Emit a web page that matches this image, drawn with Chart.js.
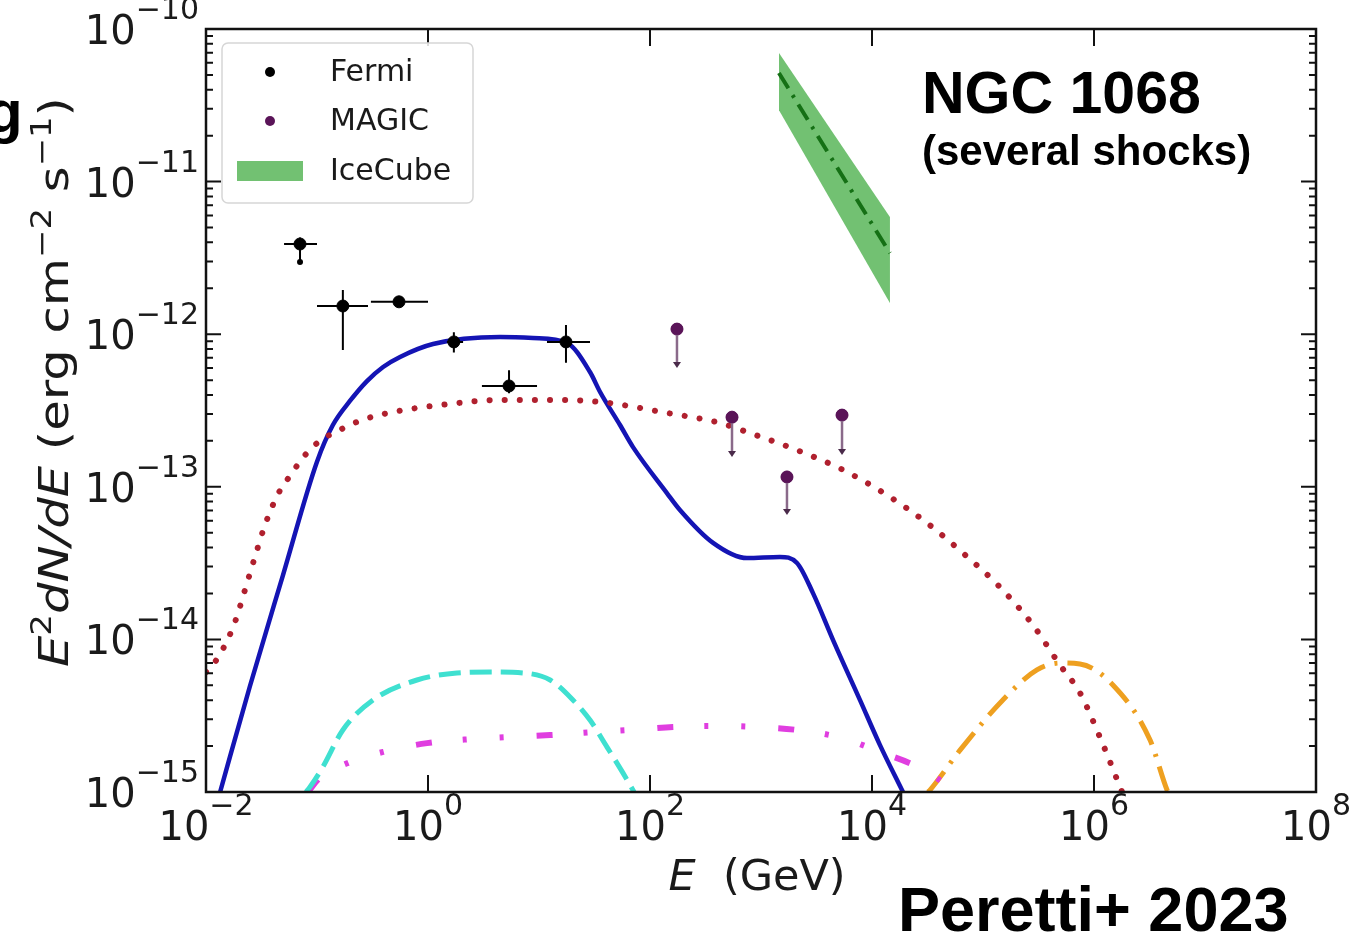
<!DOCTYPE html>
<html>
<head>
<meta charset="utf-8">
<title>NGC 1068 SED</title>
<script src="https://cdn.jsdelivr.net/npm/chart.js@4.4.1/dist/chart.umd.min.js"></script>
<style>
html, body { margin: 0; padding: 0; background: #ffffff; }
#wrap { width: 1350px; height: 937px; position: relative; }
</style>
</head>
<body>
<div id="wrap"><canvas id="sed" width="1350" height="937"></canvas></div>
<script>
// ---- data (E in GeV, E^2 dN/dE in erg cm^-2 s^-1) ----
const fermiE    = [0.0703, 0.171, 0.548, 1.71, 5.37, 17.5];
const fermiF    = [3.9e-12, 1.53e-12, 1.63e-12, 8.9e-13, 4.58e-13, 8.9e-13];
const fermiELo  = [0.0505, 0.1, 0.306, 1.48, 3.06, 11.8];
const fermiEHi  = [0.1, 0.288, 1.0, 2.07, 9.6, 28.8];
const fermiFLo  = [2.97e-12, 7.87e-13, 1.55e-12, 7.6e-13, 4.1e-13, 6.5e-13];
const fermiFHi  = [4.3e-12, 1.95e-12, 1.72e-12, 1.03e-12, 5.8e-13, 1.15e-12];

const magicE    = [175, 548, 1714, 5370];
const magicF    = [1.08e-12, 2.86e-13, 1.16e-13, 2.95e-13];
const magicTo   = [6.28e-13, 1.64e-13, 6.84e-14, 1.69e-13];

const iceE      = [1450, 14500];
const iceUpper  = [6.97e-11, 5.86e-12];
const iceLower  = [2.94e-11, 1.6e-12];
const iceBest   = [5.15e-11, 3.4e-12];

const totalE = [0.0134, 0.0249, 0.0494, 0.1, 0.139, 0.198, 0.282, 0.394, 0.56, 1.11, 4.46, 8.83, 17.9, 28.8,
                35.5, 53.7, 70.3, 142, 186, 370, 748, 1480, 2110, 2940, 4460, 7800, 11800, 19000];
const totalF = [1.0e-15, 4.95e-15, 2.64e-14, 1.46e-13, 2.54e-13, 3.65e-13, 4.93e-13, 6.1e-13, 7.1e-13, 8.63e-13,
                9.59e-13, 9.44e-13, 8.75e-13, 5.65e-13, 4.18e-13, 2.54e-13, 1.82e-13, 9.1e-14, 7.05e-14, 4.29e-14,
                3.41e-14, 3.47e-14, 3.17e-14, 2.01e-14, 9.9e-15, 4.0e-15, 2.03e-15, 1.0e-15];

const ppE = [0.01, 0.01205, 0.01483, 0.01825, 0.02244, 0.0276, 0.034, 0.0446, 0.0571, 0.0796, 0.1064, 0.161,
             0.254, 0.484, 1.58, 4.46, 12.6, 35.5, 142, 428, 796, 2109, 5480, 13650, 31300, 66000, 142000,
             282000, 494000, 748000, 1.13e6, 1.79e6];
const ppF = [6.11e-15, 7.11e-15, 9.19e-15, 1.3e-14, 2.11e-14, 3.47e-14, 5.62e-14, 8.97e-14, 1.18e-13, 1.64e-13,
             2.0e-13, 2.36e-13, 2.74e-13, 3.09e-13, 3.49e-13, 3.71e-13, 3.71e-13, 3.6e-13, 3.05e-13, 2.62e-13,
             2.25e-13, 1.74e-13, 1.29e-13, 8.83e-14, 5.79e-14, 3.68e-14, 2.2e-14, 1.24e-14, 6.79e-15, 4.46e-15,
             2.29e-15, 1.0e-15];

const cyanE = [0.0796, 0.0865, 0.113, 0.171, 0.32, 0.796, 1.82, 3.62, 7.18, 12.6, 20.2, 28.8, 41, 57.2, 71.8];
const cyanF = [1.0e-15, 1.08e-15, 1.46e-15, 2.55e-15, 4.01e-15, 5.42e-15, 6.03e-15, 6.11e-15, 6.03e-15,
               5.42e-15, 4.01e-15, 2.96e-15, 1.97e-15, 1.33e-15, 1.0e-15];

const magE = [0.083, 0.106, 0.19, 0.394, 0.98, 2.39, 5.15, 12.6, 30.6, 66.1, 161, 402, 883, 2110, 5370,
              11800, 25900, 59600];
const magF = [1.0e-15, 1.24e-15, 1.55e-15, 1.83e-15, 2.09e-15, 2.22e-15, 2.29e-15, 2.36e-15, 2.47e-15,
              2.55e-15, 2.67e-15, 2.71e-15, 2.67e-15, 2.55e-15, 2.26e-15, 1.83e-15, 1.46e-15, 1.0e-15];

const orangeE = [32000, 33300, 62100, 151000, 306000, 494000, 748000, 1.48e6, 3.2e6, 4.55e6, 4.64e6];
const orangeF = [1.0e-15, 1.03e-15, 1.88e-15, 4.01e-15, 6.31e-15, 7.0e-15, 6.9e-15, 5.03e-15, 2.19e-15,
                 1.03e-15, 1.0e-15];

const xTickExps = [-2, 0, 2, 4, 6, 8];
const yTickExps = [-15, -14, -13, -12, -11, -10];

// ---- helpers ----
function pts(xs, ys)
{
	return xs.map((x, i) => ({ x: x, y: ys[i] }));
}

function curve(label, xs, ys, color, width, dash, cap)
{
	return {
		label: label,
		data: pts(xs, ys),
		showLine: true,
		borderColor: color,
		borderWidth: width,
		borderDash: dash,
		borderCapStyle: cap || "butt",
		pointRadius: 0,
		cubicInterpolationMode: "monotone",
		fill: false,
		order: 2
	};
}

function powLabel(ctx, exp, x, baseY, align)
{
	const base = "10";
	const sup = (exp < 0 ? "\u2212" : "") + Math.abs(exp);
	ctx.font = "40px 'DejaVu Sans'";
	const wb = ctx.measureText(base).width;
	ctx.font = "30px 'DejaVu Sans'";
	const ws = ctx.measureText(sup).width;
	const x0 = align === "right" ? x - wb - ws : x - (wb + ws) / 2;
	ctx.textAlign = "left";
	ctx.textBaseline = "alphabetic";
	ctx.font = "40px 'DejaVu Sans'";
	ctx.fillText(base, x0, baseY);
	ctx.font = "30px 'DejaVu Sans'";
	ctx.fillText(sup, x0 + wb, baseY - 25);
}

function drawPieces(ctx, pieces, x, y, centre)
{
	let total = 0;
	for (let p of pieces) { ctx.font = p.f; p.w = ctx.measureText(p.t).width; total += p.w; }
	let cx = centre ? x - total / 2 : x;
	ctx.textAlign = "left";
	ctx.textBaseline = "alphabetic";
	for (let p of pieces)
	{
		ctx.font = p.f;
		ctx.fillText(p.t, cx, y + (p.dy || 0));
		cx += p.w;
	}
}

// ---- decorations drawn through the chart's own scales ----
const sedDecor = {
	id: "sedDecor",
	afterDatasetsDraw(chart)
	{
		const ctx = chart.ctx;
		const xs = chart.scales.x, ys = chart.scales.y;
		const a = chart.chartArea;
		ctx.save();

		// Fermi error bars
		ctx.strokeStyle = "#000000";
		ctx.lineWidth = 2;
		for (let i = 0; i < fermiE.length; i++)
		{
			const px = xs.getPixelForValue(fermiE[i]);
			const py = ys.getPixelForValue(fermiF[i]);
			ctx.beginPath();
			ctx.moveTo(xs.getPixelForValue(fermiELo[i]), py);
			ctx.lineTo(xs.getPixelForValue(fermiEHi[i]), py);
			ctx.moveTo(px, ys.getPixelForValue(fermiFLo[i]));
			ctx.lineTo(px, ys.getPixelForValue(fermiFHi[i]));
			ctx.stroke();
		}
		ctx.fillStyle = "#000000";
		ctx.beginPath();
		ctx.arc(xs.getPixelForValue(fermiE[0]), ys.getPixelForValue(fermiFLo[0]), 3, 0, 2 * Math.PI);
		ctx.fill();

		// MAGIC upper limits
		for (let i = 0; i < magicE.length; i++)
		{
			const px = xs.getPixelForValue(magicE[i]);
			const py0 = ys.getPixelForValue(magicF[i]);
			const py1 = ys.getPixelForValue(magicTo[i]);
			ctx.strokeStyle = "#8a6a8a";
			ctx.lineWidth = 2.5;
			ctx.beginPath();
			ctx.moveTo(px, py0);
			ctx.lineTo(px, py1);
			ctx.stroke();
			ctx.fillStyle = "#4a2a4a";
			ctx.beginPath();
			ctx.moveTo(px - 4, py1 - 3);
			ctx.lineTo(px + 4, py1 - 3);
			ctx.lineTo(px, py1 + 3);
			ctx.closePath();
			ctx.fill();
		}
		ctx.fillStyle = "#5a1458";
		for (let i = 0; i < magicE.length; i++)
		{
			ctx.beginPath();
			ctx.arc(xs.getPixelForValue(magicE[i]), ys.getPixelForValue(magicF[i]), 6, 0, 2 * Math.PI);
			ctx.fill();
		}

		// frame
		ctx.strokeStyle = "#111111";
		ctx.lineWidth = 2.5;
		ctx.strokeRect(a.left, a.top, a.right - a.left, a.bottom - a.top);

		// ticks
		ctx.lineWidth = 2;
		ctx.beginPath();
		for (let e of xTickExps)
		{
			const px = xs.getPixelForValue(Math.pow(10, e));
			ctx.moveTo(px, a.bottom); ctx.lineTo(px, a.bottom - 17);
			ctx.moveTo(px, a.top); ctx.lineTo(px, a.top + 17);
		}
		for (let e of yTickExps)
		{
			for (let m = 1; m <= 9; m++)
			{
				const v = m * Math.pow(10, e);
				if (v > ys.max * 1.0001) break;
				const py = ys.getPixelForValue(v);
				const len = m === 1 ? 15 : 7;
				ctx.moveTo(a.left, py); ctx.lineTo(a.left + len, py);
				ctx.moveTo(a.right, py); ctx.lineTo(a.right - len, py);
			}
		}
		ctx.stroke();

		// tick labels
		ctx.fillStyle = "#1a1a1a";
		for (let e of xTickExps)
			powLabel(ctx, e, xs.getPixelForValue(Math.pow(10, e)), a.bottom + 48, "centre");
		for (let e of yTickExps)
			powLabel(ctx, e, a.left - 7, ys.getPixelForValue(Math.pow(10, e)) + 15, "right");

		// axis titles
		drawPieces(ctx, [
			{ t: "E", f: "italic 43px 'DejaVu Sans'" },
			{ t: "  (GeV)", f: "43px 'DejaVu Sans'" }
		], 757, 890, true);

		ctx.save();
		ctx.translate(68, 382);
		ctx.rotate(-Math.PI / 2);
		ctx.scale(1.21, 1);
		drawPieces(ctx, [
			{ t: "E", f: "italic 41px 'DejaVu Sans'" },
			{ t: "2", f: "28px 'DejaVu Sans'", dy: -17 },
			{ t: "dN/dE", f: "italic 41px 'DejaVu Sans'" },
			{ t: " (erg cm", f: "41px 'DejaVu Sans'" },
			{ t: "\u22122", f: "28px 'DejaVu Sans'", dy: -17 },
			{ t: " s", f: "41px 'DejaVu Sans'" },
			{ t: "\u22121", f: "28px 'DejaVu Sans'", dy: -17 },
			{ t: ")", f: "41px 'DejaVu Sans'" }
		], 0, 0, true);
		ctx.restore();

		// legend
		const lg = { l: 222, t: 43, r: 473, b: 203 };
		ctx.fillStyle = "rgba(255,255,255,0.85)";
		ctx.strokeStyle = "#d6d6d6";
		ctx.lineWidth = 1.5;
		ctx.beginPath();
		ctx.roundRect(lg.l, lg.t, lg.r - lg.l, lg.b - lg.t, 6);
		ctx.fill();
		ctx.stroke();
		const rows = [72, 121, 171];
		const ds = chart.data.datasets;
		const legendSets = [ds[0], ds[1], ds[2]];
		ctx.font = "30px 'DejaVu Sans'";
		ctx.textBaseline = "middle";
		ctx.textAlign = "left";
		for (let i = 0; i < legendSets.length; i++)
		{
			const d = legendSets[i];
			ctx.fillStyle = d.backgroundColor;
			if (i < 2)
			{
				ctx.beginPath();
				ctx.arc(270, rows[i], 5, 0, 2 * Math.PI);
				ctx.fill();
			}
			else
				ctx.fillRect(237, rows[i] - 10, 66, 20);
			ctx.fillStyle = "#1a1a1a";
			ctx.fillText(d.label, 330, rows[i] + 1);
		}

		// annotations
		ctx.fillStyle = "#000000";
		ctx.textBaseline = "alphabetic";
		ctx.font = "bold 59px 'Liberation Sans'";
		ctx.fillText("NGC 1068", 922, 113);
		ctx.font = "bold 42px 'Liberation Sans'";
		ctx.fillText("(several shocks)", 922, 165);
		ctx.font = "bold 63px 'Liberation Sans'";
		ctx.fillText("Peretti+ 2023", 898, 931);
		ctx.font = "bold 60px 'Liberation Sans'";
		ctx.fillText("g", -14, 132);

		ctx.restore();
	}
};

const datasets = [
	{
		label: "Fermi",
		data: pts(fermiE, fermiF),
		backgroundColor: "#000000",
		borderColor: "#000000",
		pointRadius: 6,
		pointHoverRadius: 6,
		showLine: false,
		order: 0
	},
	{
		label: "MAGIC",
		data: pts(magicE, magicF),
		backgroundColor: "#5a1458",
		borderColor: "#5a1458",
		pointRadius: 6,
		showLine: false,
		order: 0
	},
	{
		label: "IceCube",
		data: pts(iceE, iceUpper),
		showLine: true,
		borderWidth: 0,
		borderColor: "rgba(0,0,0,0)",
		backgroundColor: "#72c172",
		pointRadius: 0,
		fill: "+1",
		order: 3
	},
	{
		label: "IceCube lower",
		data: pts(iceE, iceLower),
		showLine: true,
		borderWidth: 0,
		borderColor: "rgba(0,0,0,0)",
		pointRadius: 0,
		fill: false,
		order: 3
	},
	curve("IceCube best fit", iceE, iceBest, "#157015", 4, [18, 8, 3, 8]),
	curve("pp total", ppE, ppF, "#b0202e", 6, [0.1, 15], "round"),
	curve("cyan", cyanE, cyanF, "#3fe0d0", 5, [22, 9]),
	curve("magenta", magE, magF, "#e03ee0", 6, [16, 31, 4, 33, 4, 33]),
	curve("orange", orangeE, orangeF, "#eea020", 5, [26, 10, 3, 10]),
	curve("total", totalE, totalF, "#1414b4", 4.5, [])
];

new Chart(document.getElementById("sed").getContext("2d"),
{
	type: "scatter",
	data: { datasets: datasets },
	plugins: [sedDecor],
	options:
	{
		responsive: false,
		animation: false,
		layout: { padding: { left: 206, right: 34, top: 29, bottom: 145 } },
		plugins:
		{
			legend: { display: false },
			tooltip: { enabled: false }
		},
		scales:
		{
			x: { type: "logarithmic", min: 1e-2, max: 1e8, display: false },
			y: { type: "logarithmic", min: 1e-15, max: 1e-10, display: false }
		}
	}
});
</script>
</body>
</html>
